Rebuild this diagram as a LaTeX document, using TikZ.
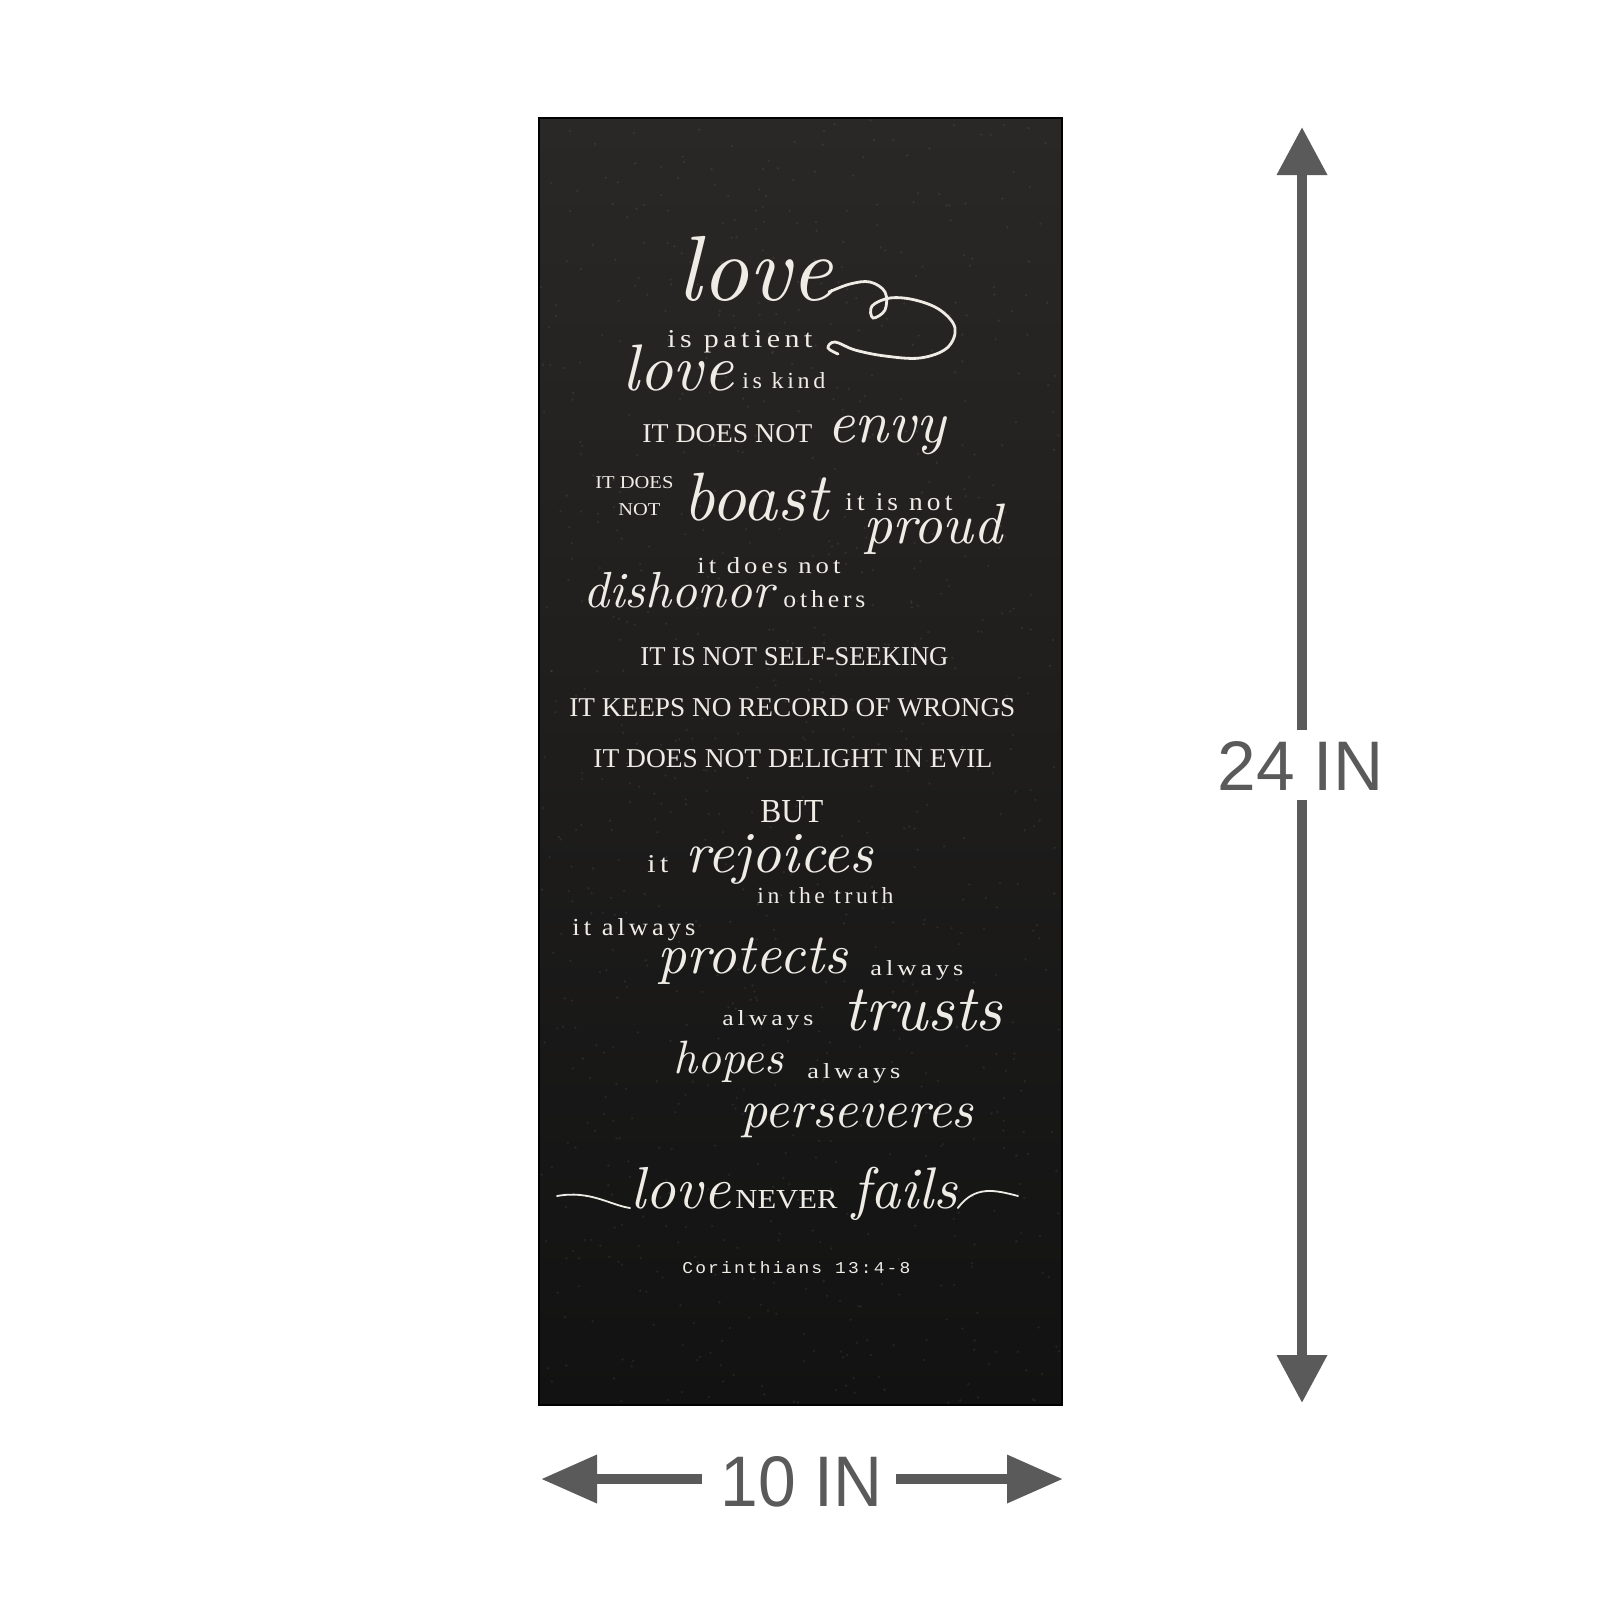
\documentclass[tikz,border=0pt]{standalone}
\usepackage{fontspec}
\usepackage{graphicx}
\usetikzlibrary{arrows.meta}
\newfontfamily\capsf{Liberation Serif}
\newfontfamily\lsf[LetterSpace=15]{Liberation Serif}
\newfontfamily\monof[LetterSpace=12]{Liberation Mono}
\newfontfamily\dimf{Liberation Sans}
\definecolor{chalk}{HTML}{EFECE6}
\definecolor{dimgray}{HTML}{5A5A5A}
\definecolor{boardtop}{HTML}{2A2826}
\definecolor{boardbot}{HTML}{121212}
\newdimen\pxu \pxu=0.5pt
\newcommand\fw[2]{\resizebox{#1\pxu}{!}{#2}}
\newcommand\fwh[3]{\resizebox{#1\pxu}{#2\pxu}{#3}}
\begin{document}
\begin{tikzpicture}[x=0.5pt,y=-0.5pt,
  tx/.style={inner sep=0pt, anchor=base west, text=chalk},
  dimshaft/.style={draw=dimgray, line width=5pt},
  vtip/.style={-{Triangle[length=24pt,width=24pt]}},
  htip/.style={-{Triangle[length=28pt,width=23pt]}},
  dimlab/.style={inner sep=0pt, anchor=base west, text=dimgray},
  flour/.style={draw=chalk, line width=1.4pt, line cap=round},
  speck/.style={fill=white, opacity=0.07}]
\useasboundingbox (0,0) rectangle (1600,1600);
\fill[white] (0,0) rectangle (1600,1600);
% board
\shade[top color=boardtop, bottom color=boardbot] (539,118) rectangle (1062,1405);
\pgfmathsetseed{7}
\foreach \i in {1,...,900}{%
  \pgfmathsetmacro\xx{541+519*rnd}%
  \pgfmathsetmacro\yy{120+1283*rnd}%
  \fill[speck] (\xx,\yy) circle (1.3);
}
\draw[black, line width=0.6pt] (539,118) rectangle (1062,1405);

% top script love with flourish
\node[tx] (love1) at (677,300) {\fw{156}{\itshape love}};
\draw[flour] plot[smooth, tension=0.6] coordinates {(829,292) (850,284) (870,282) (885,292) (885,310) (873,318) (872,306) (890,298) (915,300) (940,310) (955,328) (947,348) (920,358) (885,356) (855,350) (835,342) (828,348) (838,354)};

\node[tx] (patient) at (667,347) {\fwh{145}{17}{\lsf is patient}};
\node[tx] (love2) at (622,390) {\fw{111}{\itshape love}};
\node[tx] (kind) at (742,388) {\fwh{83}{16}{\lsf is kind}};
\node[tx] (dn1) at (642,442) {\fwh{170}{18}{\capsf IT DOES NOT}};
\node[tx] (envy) at (827,442) {\fw{118}{\itshape envy}};
\node[tx] (itdoes) at (595,488) {\fwh{78}{12}{\capsf IT DOES}};
\node[tx] (not1) at (618,515) {\fwh{42}{12}{\capsf NOT}};
\node[tx] (boast) at (683,520) {\fw{145}{\itshape boast}};
\node[tx] (isnot) at (845,510) {\fwh{107}{17}{\lsf it is not}};
\node[tx] (proud) at (863,543) {\fw{139}{\itshape proud}};
\node[tx] (doesnot) at (697,573) {\fwh{143}{16}{\lsf it does not}};
\node[tx] (dishonor) at (583,607) {\fw{190}{\itshape dishonor}};
\node[tx] (others) at (783,607) {\fwh{82}{17}{\lsf others}};

\node[tx] (self) at (640,665) {\fwh{308}{18}{\capsf IT IS NOT SELF-SEEKING}};
\node[tx] (record) at (569,716) {\fwh{446}{18}{\capsf IT KEEPS NO RECORD OF WRONGS}};
\node[tx] (evil) at (593,767) {\fwh{399}{18}{\capsf IT DOES NOT DELIGHT IN EVIL}};
\node[tx] (but) at (760,822) {\fwh{63}{22}{\capsf BUT}};

\node[tx] (it1) at (647,872) {\fwh{21}{17}{\lsf it}};
\node[tx] (rejoices) at (685,872) {\fw{188}{\itshape rejoices}};
\node[tx] (truth) at (757,903) {\fwh{136}{16}{\lsf in the truth}};
\node[tx] (italways) at (572,935) {\fwh{123}{17}{\lsf it always}};
\node[tx] (protects) at (657,973) {\fw{190}{\itshape protects}};
\node[tx] (alw1) at (870,975) {\fwh{93}{15}{\lsf always}};
\node[tx] (alw2) at (722,1025) {\fwh{91}{15}{\lsf always}};
\node[tx] (trusts) at (843,1030) {\fw{159}{\itshape trusts}};
\node[tx] (hopes) at (673,1073) {\fw{110}{\itshape hopes}};
\node[tx] (alw3) at (807,1078) {\fwh{93}{15}{\lsf always}};
\node[tx] (persev) at (740,1127) {\fw{233}{\itshape perseveres}};

\node[tx] (love3) at (630,1208) {\fw{100}{\itshape love}};
\node[tx] (never) at (735,1208) {\fwh{102}{18}{\capsf NEVER}};
\node[tx] (fails) at (852,1208) {\fw{105}{\itshape fails}};
\draw[flour, line width=0.9pt] (557,1196) .. controls (590,1190) and (610,1205) .. (love3.base west);
\draw[flour, line width=0.9pt] (fails.base east) .. controls (975,1185) and (995,1190) .. (1018,1196);

\node[tx] (cor) at (682,1273) {\fwh{228}{12}{\monof Corinthians 13:4-8}};

% dimension arrows
\node[dimlab] (hlab) at (1217,790) {\fwh{166}{49}{\dimf 24 IN}};
\coordinate (vT) at (1302,127);
\coordinate (vTs) at (1302,730);
\coordinate (vB) at (1302,1403);
\coordinate (vBs) at (1302,800);
\draw[dimshaft, vtip] (vTs) -- (vT);
\draw[dimshaft, vtip] (vBs) -- (vB);

\node[dimlab] (wlab) at (720,1506) {\fwh{162}{50}{\dimf 10 IN}};
\coordinate (hL) at (541,1479);
\coordinate (hLs) at (702,1479);
\coordinate (hR) at (1063,1479);
\coordinate (hRs) at (896,1479);
\draw[dimshaft, htip] (hLs) -- (hL);
\draw[dimshaft, htip] (hRs) -- (hR);
\end{tikzpicture}
\end{document}
